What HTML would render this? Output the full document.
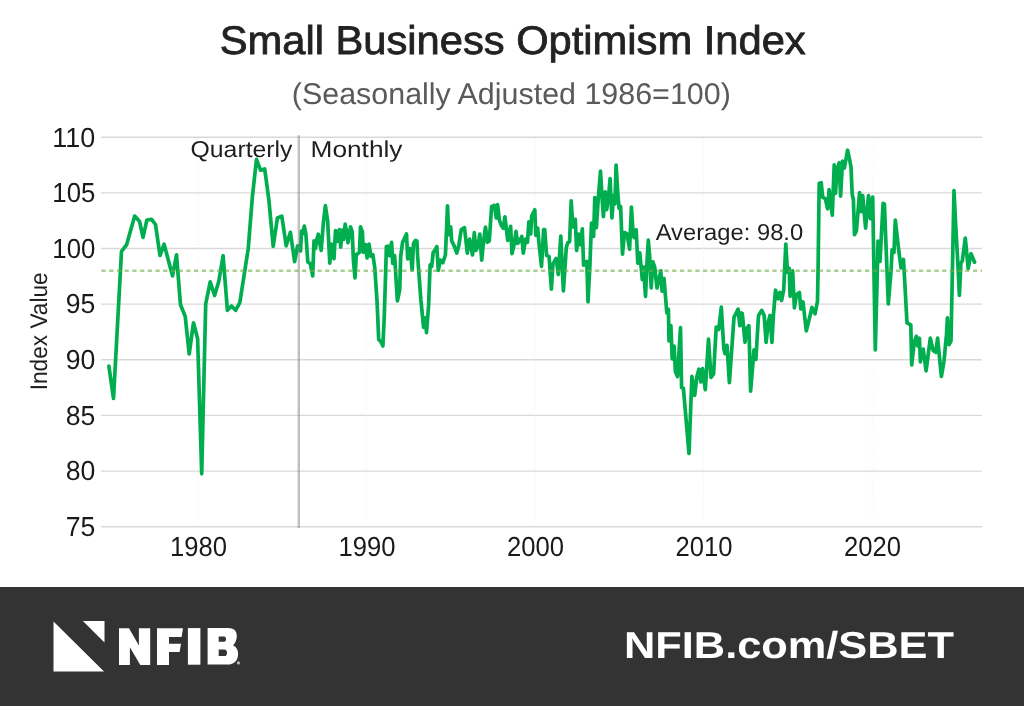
<!DOCTYPE html>
<html><head><meta charset="utf-8"><style>
html,body{margin:0;padding:0;background:#fff;}
body{width:1024px;height:706px;overflow:hidden;position:relative;font-family:"Liberation Sans",sans-serif;}
svg{position:absolute;left:0;top:0;will-change:transform;}
text{text-rendering:geometricPrecision;}
</style></head><body>
<svg width="1024" height="706" viewBox="0 0 1024 706" font-family="Liberation Sans, sans-serif">
<rect x="0" y="0" width="1024" height="706" fill="#fff"/>
<text x="512.7" y="54.4" text-anchor="middle" font-size="40" fill="#222" stroke="#222" stroke-width="0.8" textLength="586" lengthAdjust="spacingAndGlyphs">Small Business Optimism Index</text>
<text x="511.3" y="104.2" text-anchor="middle" font-size="30" fill="#5a5a5a" textLength="439" lengthAdjust="spacingAndGlyphs">(Seasonally Adjusted 1986=100)</text>
<g stroke="#d9d9d9" stroke-width="1.4"><line x1="101" x2="982" y1="526.7" y2="526.7"/><line x1="101" x2="982" y1="471.1" y2="471.1"/><line x1="101" x2="982" y1="415.4" y2="415.4"/><line x1="101" x2="982" y1="359.8" y2="359.8"/><line x1="101" x2="982" y1="304.1" y2="304.1"/><line x1="101" x2="982" y1="248.5" y2="248.5"/><line x1="101" x2="982" y1="192.9" y2="192.9"/><line x1="101" x2="982" y1="137.2" y2="137.2"/></g>
<g stroke="#ebebf5" stroke-width="1" stroke-dasharray="1 2.8"><line x1="198.1" x2="198.1" y1="138" y2="527"/><line x1="366.6" x2="366.6" y1="138" y2="527"/><line x1="535.1" x2="535.1" y1="138" y2="527"/><line x1="703.6" x2="703.6" y1="138" y2="527"/><line x1="872.1" x2="872.1" y1="138" y2="527"/></g>
<path d="M108.9 366.2 L113.5 398.5 L121.5 251.4 L126.7 244.6 L130.6 230.6 L134.7 216.1 L139.6 221.5 L143.0 237.4 L146.9 220.0 L151.6 219.3 L155.5 224.5 L160.0 255.5 L164.1 244.2 L172.5 275.9 L176.5 254.8 L180.5 304.8 L185.2 316.4 L189.2 354.0 L193.5 322.8 L197.6 338.5 L201.7 473.8 L205.7 304.0 L210.2 281.8 L214.6 295.5 L218.8 281.2 L223.1 255.7 L227.4 310.3 L231.5 306.0 L235.6 310.3 L239.9 302.3 L244.2 274.5 L248.2 249.0 L252.4 196.5 L256.5 159.4 L260.5 170.1 L264.7 169.0 L268.8 199.2 L273.2 246.3 L277.4 218.0 L281.8 216.2 L286.2 245.8 L290.4 232.3 L294.6 261.6 L297.6 245.9 L300.5 251.0 L301.5 231.2 L302.7 233.8 L304.3 226.1 L305.9 234.4 L307.8 261.9 L310.4 263.8 L312.7 275.9 L314.0 240.8 L315.5 248.5 L316.8 239.5 L318.3 234.2 L319.6 242.1 L321.2 250.4 L323.4 222.3 L325.4 205.7 L327.6 220.4 L329.8 263.1 L331.4 244.0 L332.3 253.6 L334.0 258.7 L335.5 230.6 L337.2 241.4 L339.3 229.6 L340.7 247.2 L342.3 230.0 L343.5 239.5 L345.2 224.0 L346.5 231.9 L348.0 242.7 L350.5 226.8 L352.2 231.9 L353.4 260.0 L355.0 277.8 L356.3 254.8 L359.5 252.3 L360.5 226.8 L362.4 231.9 L363.3 252.3 L365.5 244.6 L367.1 258.0 L369.0 244.0 L370.9 256.1 L372.9 254.8 L374.8 268.0 L377.1 302.3 L378.7 339.7 L380.6 341.3 L382.9 346.0 L384.2 317.9 L385.7 271.2 L386.4 246.5 L388.0 246.2 L389.3 255.6 L391.6 242.3 L392.7 263.4 L394.6 255.6 L397.4 300.8 L399.7 289.9 L400.7 256.3 L402.6 242.3 L406.5 234.0 L407.7 258.8 L410.0 248.6 L412.2 269.7 L413.5 243.5 L415.4 240.4 L416.9 241.0 L417.6 255.6 L420.8 299.2 L423.6 327.3 L425.4 317.9 L426.5 332.7 L428.6 305.4 L430.1 264.9 L431.7 266.5 L433.2 252.5 L435.2 249.9 L436.8 246.7 L438.3 270.3 L440.3 260.1 L442.8 262.7 L445.4 255.0 L446.6 228.2 L447.5 205.9 L448.8 234.6 L450.7 227.0 L451.7 241.0 L454.3 246.1 L456.8 253.1 L458.7 246.1 L461.3 229.5 L464.5 227.6 L467.3 253.1 L469.6 239.1 L472.5 255.0 L474.3 232.7 L475.9 250.5 L477.9 246.7 L479.8 234.0 L481.7 260.1 L483.6 241.0 L485.5 227.0 L487.4 242.3 L489.3 241.0 L491.6 206.6 L494.4 205.3 L496.3 218.0 L497.6 204.7 L499.5 220.6 L501.4 225.7 L503.3 228.2 L504.9 216.8 L507.7 240.4 L510.6 226.3 L512.0 253.7 L514.1 244.8 L516.0 231.4 L517.7 243.5 L519.9 240.4 L521.8 236.5 L523.3 253.1 L525.6 239.1 L527.5 242.3 L528.8 221.9 L530.7 234.0 L531.7 216.1 L534.8 209.8 L535.8 235.3 L537.7 228.2 L539.0 243.5 L541.5 266.3 L543.6 229.5 L544.7 229.5 L546.6 255.3 L549.1 256.6 L551.4 289.1 L552.9 264.2 L556.1 258.5 L558.3 274.4 L560.8 236.0 L563.4 291.0 L566.3 247.6 L567.7 242.9 L569.6 241.6 L571.2 200.8 L572.8 227.0 L575.3 219.3 L576.6 250.5 L578.5 234.0 L580.4 244.8 L582.3 228.9 L583.6 265.2 L586.8 261.4 L588.0 301.8 L589.9 265.5 L591.5 223.1 L593.6 236.5 L594.8 197.6 L596.4 227.6 L598.3 198.2 L600.5 171.2 L602.1 198.2 L603.4 216.7 L605.3 191.9 L606.6 209.7 L608.5 198.2 L610.1 178.5 L611.9 218.0 L613.6 195.7 L614.9 204.0 L616.1 165.1 L617.8 193.1 L619.1 208.4 L620.6 206.5 L622.5 254.2 L624.5 232.5 L627.0 233.8 L629.6 249.1 L631.4 207.2 L633.3 236.5 L634.5 237.6 L636.2 229.9 L637.8 263.1 L639.8 252.9 L642.3 279.7 L643.6 267.0 L645.5 296.3 L647.0 261.9 L648.3 240.2 L649.6 255.5 L651.2 288.0 L652.9 261.9 L654.7 267.0 L657.0 288.0 L660.8 270.8 L662.1 291.2 L664.0 278.4 L665.9 301.4 L666.8 312.9 L668.4 309.1 L669.0 341.0 L670.9 325.7 L672.2 358.8 L674.1 346.1 L675.4 371.6 L677.5 376.5 L680.5 327.6 L681.6 387.6 L683.4 388.3 L689.0 453.5 L691.9 376.3 L694.7 395.4 L696.8 377.0 L698.9 369.2 L700.8 382.0 L702.5 368.5 L705.3 389.7 L708.5 339.1 L711.0 377.5 L713.6 374.0 L716.2 327.0 L718.7 329.5 L721.3 307.2 L723.8 348.6 L725.1 353.7 L727.0 345.4 L729.4 382.7 L734.0 317.4 L738.1 309.1 L739.8 325.7 L741.3 312.9 L742.3 313.6 L745.0 342.3 L747.0 328.2 L748.9 325.7 L750.6 391.2 L754.0 349.9 L755.9 359.5 L758.5 315.5 L761.7 310.4 L764.2 315.5 L766.1 342.3 L768.3 321.9 L770.0 315.5 L771.9 342.3 L773.4 315.5 L775.5 290.0 L777.9 298.8 L779.9 292.5 L781.6 300.5 L783.7 289.9 L785.8 244.0 L787.5 272.1 L789.2 268.2 L790.1 296.3 L792.6 270.8 L794.4 307.8 L796.5 294.8 L799.4 292.5 L800.8 309.0 L803.0 302.0 L806.3 330.8 L809.5 318.0 L812.0 307.5 L815.0 313.8 L817.5 301.4 L818.1 268.2 L819.2 183.3 L821.2 182.7 L822.7 197.4 L825.3 198.6 L827.6 208.8 L829.1 189.7 L832.3 215.2 L834.2 164.9 L835.5 193.5 L837.0 170.0 L839.1 162.9 L840.6 196.1 L842.5 161.0 L844.4 168.0 L847.6 150.2 L849.5 159.1 L851.0 166.8 L852.2 194.5 L853.4 199.5 L854.5 234.6 L856.4 230.8 L859.6 192.5 L860.8 211.7 L862.7 195.7 L865.6 228.2 L868.5 195.7 L870.4 218.7 L872.7 197.0 L875.3 350.0 L877.0 284.2 L878.0 241.0 L880.0 261.4 L883.1 203.4 L884.4 204.0 L888.3 304.0 L891.1 270.0 L892.1 249.9 L894.0 252.5 L895.3 220.0 L898.4 247.4 L901.0 267.8 L903.5 259.5 L907.0 322.9 L910.8 324.9 L911.7 365.0 L914.3 342.1 L916.3 336.3 L917.8 345.9 L919.4 338.2 L920.4 361.8 L921.9 351.0 L923.2 349.1 L926.1 370.8 L930.3 338.2 L933.1 350.4 L935.7 352.3 L937.6 338.2 L941.4 376.5 L944.0 361.2 L946.5 334.4 L947.4 317.8 L949.1 344.6 L951.0 340.8 L954.0 190.6 L955.8 227.0 L957.6 259.0 L959.4 295.5 L960.9 263.0 L962.3 261.0 L965.3 238.1 L968.2 268.5 L971.0 253.7 L974.6 262.2" fill="none" stroke="#00ad4f" stroke-width="3.7" stroke-linejoin="round" stroke-linecap="round"/>
<line x1="298.8" x2="298.8" y1="135.2" y2="528" stroke="#808080" stroke-opacity="0.5" stroke-width="2.4"/>
<line x1="101.5" x2="982" y1="270.7" y2="270.7" stroke="#70ad47" stroke-opacity="0.6" stroke-width="2.4" stroke-dasharray="4.2 3.512"/>
<g font-size="27.5" fill="#1a1a1a"><text x="95.3" y="536.0" text-anchor="end" textLength="29.6" lengthAdjust="spacingAndGlyphs">75</text><text x="95.3" y="480.4" text-anchor="end" textLength="29.6" lengthAdjust="spacingAndGlyphs">80</text><text x="95.3" y="424.7" text-anchor="end" textLength="29.6" lengthAdjust="spacingAndGlyphs">85</text><text x="95.3" y="369.1" text-anchor="end" textLength="29.6" lengthAdjust="spacingAndGlyphs">90</text><text x="95.3" y="313.4" text-anchor="end" textLength="29.6" lengthAdjust="spacingAndGlyphs">95</text><text x="95.3" y="257.8" text-anchor="end" textLength="43" lengthAdjust="spacingAndGlyphs">100</text><text x="95.3" y="202.2" text-anchor="end" textLength="43" lengthAdjust="spacingAndGlyphs">105</text><text x="95.3" y="146.5" text-anchor="end" textLength="43" lengthAdjust="spacingAndGlyphs">110</text></g>
<g font-size="27.5" fill="#1a1a1a"><text x="198.6" y="555.6" text-anchor="middle" textLength="57" lengthAdjust="spacingAndGlyphs">1980</text><text x="367.1" y="555.6" text-anchor="middle" textLength="57" lengthAdjust="spacingAndGlyphs">1990</text><text x="535.6" y="555.6" text-anchor="middle" textLength="57" lengthAdjust="spacingAndGlyphs">2000</text><text x="704.1" y="555.6" text-anchor="middle" textLength="57" lengthAdjust="spacingAndGlyphs">2010</text><text x="872.6" y="555.6" text-anchor="middle" textLength="57" lengthAdjust="spacingAndGlyphs">2020</text></g>
<text x="190.5" y="156.7" font-size="23" fill="#1f1f1f" textLength="102" lengthAdjust="spacingAndGlyphs">Quarterly</text>
<text x="310.5" y="156.7" font-size="23" fill="#1f1f1f" textLength="92" lengthAdjust="spacingAndGlyphs">Monthly</text>
<text x="655.7" y="239.6" font-size="23" fill="#1f1f1f" textLength="147.5" lengthAdjust="spacingAndGlyphs">Average: 98.0</text>
<text transform="translate(47.3 331.3) rotate(-90)" text-anchor="middle" font-size="24" fill="#1f1f1f" textLength="118" lengthAdjust="spacingAndGlyphs">Index Value</text>
<rect x="0" y="587" width="1024" height="119" fill="#333"/>
<polygon points="53.5,621.6 53.5,671.6 104,671.6" fill="#fff"/>
<polygon points="82.9,621.1 104.5,621.1 104.5,642.4" fill="#fff"/>
<polygon points="119,628.2 129,628.2 138.9,645.5 138.9,628.2 150.2,628.2 150.2,664.9 140.3,664.9 129.9,647.2 129.9,664.9 119,664.9" fill="#fff"/>
<polygon points="157,628.2 183,628.2 181.6,637 169,637 169,643.8 181,643.8 179.6,652 169,652 169,664.9 157,664.9" fill="#fff"/>
<rect x="187.9" y="628.1" width="12.5" height="36.6" fill="#fff"/>
<path fill="#fff" fill-rule="evenodd" d="M207.6 628.1 H228 C234 628.1 236.8 631 236.8 636 C236.8 640.5 234.5 644 233 645.6 C236.5 647 238.1 650 238.1 654 C238.1 660.5 234 664.6 227.5 664.6 H207.6 Z M218.7 636.4 H224 C225.5 636.4 226 637.5 226 639.1 C226 640.7 225.5 641.8 224 641.8 H218.7 Z M218.7 649.4 H224.5 C226.2 649.4 227 650.8 227 652.7 C227 654.7 226.2 656.1 224.5 656.1 H218.7 Z"/>
<circle cx="238.4" cy="662.9" r="1.6" fill="#bbb"/>
<text x="624" y="657.5" font-size="37.5" font-weight="bold" fill="#fff" textLength="330" lengthAdjust="spacingAndGlyphs">NFIB.com/SBET</text>
</svg>
</body></html>
